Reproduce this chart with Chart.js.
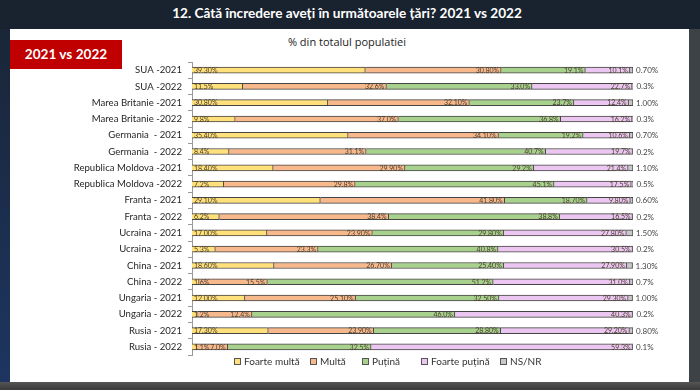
<!DOCTYPE html>
<html>
<head>
<meta charset="utf-8">
<script src="https://cdn.jsdelivr.net/npm/chart.js@4.4.1/dist/chart.umd.min.js"></script>
<style>
  html, body { margin: 0; padding: 0; }
  body { width: 700px; height: 390px; position: relative; overflow: hidden; background: #19222f; font-family: Lato, "Open Sans", sans-serif; }
  #left { position: absolute; left: 0; top: 29px; width: 10px; height: 353px; background: linear-gradient(#1a2638, #1d3560); }
  #right { position: absolute; left: 689px; top: 29px; width: 11px; height: 361px; background: #3d4247; }
  #bottom { position: absolute; left: 0; top: 382px; width: 700px; height: 8px; background: linear-gradient(#555, #3a3a3a); }
  #panel { position: absolute; left: 10px; top: 29px; width: 679px; height: 353px; background: #ffffff; }
  #title { position: absolute; left: 0; top: 5px; width: 694px; text-align: center; color: #fff; font-weight: bold; font-size: 13.6px; font-family: Lato, "Open Sans", sans-serif; }
  #sub { position: absolute; left: 0; top: 34px; width: 694px; text-align: center; color: #222; font-size: 11px; font-family: "Open Sans", sans-serif; }
  #badge { position: absolute; left: 10px; top: 40px; width: 112px; height: 29px; background: #c00000; color: #fff; font-weight: bold; font-size: 13.6px; line-height: 29px; text-align: center; font-family: Lato, "Open Sans", sans-serif; }
  canvas { position: absolute; left: 0; top: 0; }
  #legend { position: absolute; left: 0; top: 355px; width: 700px; height: 14px; font-family: Lato, sans-serif; font-size: 10px; color: #333; }
  .li { position: absolute; top: 0; white-space: nowrap; line-height: 12px; }
  .li i { display: inline-block; width: 5px; height: 5px; border: 1px solid #555; margin-right: 3px; vertical-align: 0px; }
</style>
</head>
<body>
<div id="left"></div>
<div id="right"></div>
<div id="bottom"></div>
<div id="panel"></div>
<div id="title">12. Câtă încredere aveți în următoarele țări? 2021 vs 2022</div>
<div id="sub">% din totalul populatiei</div>
<div id="badge">2021 vs 2022</div>
<canvas id="c" width="700" height="390"></canvas>
<div id="legend"></div>
<script>
const categories = [
  "SUA -2021", "SUA -2022",
  "Marea Britanie -2021", "Marea Britanie -2022",
  "Germania  - 2021", "Germania  - 2022",
  "Republica Moldova -2021", "Republica Moldova -2022",
  "Franta - 2021", "Franta - 2022",
  "Ucraina - 2021", "Ucraina - 2022",
  "China - 2021", "China - 2022",
  "Ungaria - 2021", "Ungaria - 2022",
  "Rusia - 2021", "Rusia - 2022"
];
const seriesNames = ["Foarte multă", "Multă", "Puțină", "Foarte puțină", "NS/NR"];
// values kept as text to preserve the precision shown on the labels
const foarteMulta = ["39.30","11.5","30.80","9.8","35.40","8.4","18.40","7.2","29.10","6.2","17.00","5.3","18.60","1.6","12.00","1.2","17.30","1.1"];
const multa       = ["30.80","32.6","32.10","37.0","34.10","31.1","29.90","29.8","41.80","38.4","23.90","23.3","26.70","15.5","25.10","12.4","23.90","7.0"];
const putina      = ["19.1","33.0","23.7","36.8","19.2","40.7","29.2","45.1","18.70","38.8","29.80","40.8","25.40","51.2","32.50","46.0","28.80","32.5"];
const foartePutina= ["10.1","22.7","12.4","16.2","10.6","19.7","21.4","17.5","9.80","16.5","27.80","30.5","27.90","31.0","29.30","40.3","29.20","59.3"];
const nsnr        = ["0.70","0.3","1.00","0.3","0.70","0.2","1.10","0.5","0.60","0.2","1.50","0.2","1.30","0.7","1.00","0.2","0.80","0.1"];

const seriesText = [foarteMulta, multa, putina, foartePutina, nsnr];
const colors = ["#ffe07a", "#f7b88c", "#a9d18e", "#ebc6f0", "#c8c8c8"];

// HTML legend (text stays real text)
const legendX = [234, 310, 362, 421, 500];
const legendEl = document.getElementById("legend");
seriesNames.forEach((n, k) => {
  const d = document.createElement("div");
  d.className = "li";
  d.style.left = legendX[k] + "px";
  const b = document.createElement("i");
  b.style.background = colors[k];
  d.appendChild(b);
  d.appendChild(document.createTextNode(n));
  legendEl.appendChild(d);
});

const labelPlugin = {
  id: "barLabels",
  afterDatasetsDraw(chart) {
    const ctx = chart.ctx;
    ctx.save();
    ctx.textBaseline = "middle";
    chart.data.datasets.forEach((ds, di) => {
      const meta = chart.getDatasetMeta(di);
      meta.data.forEach((el, i) => {
        const p = el.getProps(["x", "y", "base"], true);
        const txt = seriesText[di][i] + "%";
        if (di === 4) {
          ctx.font = "8px Lato, sans-serif";
          ctx.fillStyle = "#444";
          ctx.textAlign = "left";
          ctx.fillText(txt, p.x + 3, p.y + 0.5);
        } else if (di === 0) {
          ctx.font = "7px Lato, sans-serif";
          ctx.fillStyle = "#4a4030";
          ctx.textAlign = "left";
          ctx.fillText(txt, p.base + 2, p.y + 0.5);
        } else {
          ctx.font = "7px Lato, sans-serif";
          ctx.fillStyle = "#4a4030";
          ctx.textAlign = "right";
          ctx.fillText(txt, p.x - 2, p.y + 0.5);
        }
      });
    });
    ctx.restore();
  }
};

new Chart(document.getElementById("c"), {
  type: "bar",
  data: {
    labels: categories,
    datasets: seriesText.map((arr, k) => ({
      label: seriesNames[k],
      data: arr.map(Number),
      backgroundColor: colors[k],
      borderColor: "#454545",
      borderWidth: 1,
      barThickness: 6
    }))
  },
  options: {
    indexAxis: "y",
    responsive: false,
    animation: false,
    layout: { padding: { left: 0, right: 67, top: 62, bottom: 35 } },
    scales: {
      x: {
        stacked: true, min: 0, max: 100, display: false
      },
      y: {
        stacked: true,
        afterFit: s => { s.width = 192; },
        grid: { drawOnChartArea: false, drawTicks: true, tickLength: 4, color: "#9a9a9a", offset: true },
        border: { display: true, color: "#9a9a9a" },
        ticks: { color: "#262626", font: { family: "Lato, sans-serif", size: 9.6 }, padding: 6 }
      }
    },
    plugins: {
      legend: { display: false },
      tooltip: { enabled: false }
    }
  },
  plugins: [labelPlugin]
});
</script>
</body>
</html>
